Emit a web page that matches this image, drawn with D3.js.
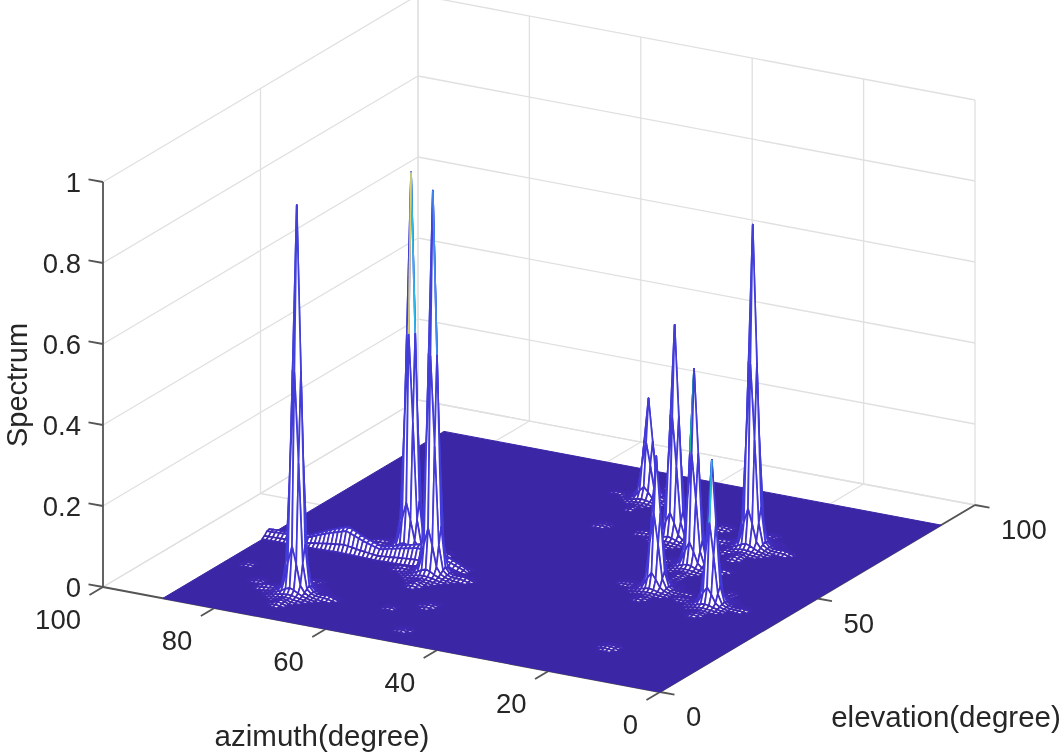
<!DOCTYPE html>
<head>
<title>Spectrum</title>
<meta charset="utf-8">
<style>
body { margin: 0; background: #fff; }
svg { display: block; filter: blur(0.5px); }
text { font-family: "Liberation Sans", Arial, sans-serif; font-size: 27.5px; fill: #262626; }
text.title { font-size: 29.5px; }
text.ztitle { font-size: 29px; }
.grid line { stroke: #e0e0e0; stroke-width: 1.3px; }
.axis line { stroke: #555; stroke-width: 1.8px; }
</style>
<script src="https://d3js.org/d3.v7.min.js"></script>
</head>
<body>
<script type="text/javascript">
"use strict";
// peaks (tip and base of each spike)
var peakAz = [72, 66.75, 58, 46, 24, 33, 24, 13, 20],
    peakEl = [12, 39, 30, 77, 41, 63, 53, 39, 65],
    peakZ  = [0.96, 0.93, 0.95, 0.25, 0.33, 0.53, 0.49, 0.36, 0.80];

// low ridge behind the left spikes, at el = ridgeEl
var ridgeEl = 33.5,
    ridgeAz = [54, 58, 62, 65, 69, 72, 75, 78, 82, 86, 90],
    ridgeZ  = [0.01, 0.035, 0.05, 0.04, 0.025, 0.04, 0.06, 0.045, 0.02, 0.018, 0.015];

// faint dotted patches on the floor
var patchAz = [17, 46, 29, 23, 56, 51, 49, 85, 80],
    patchEl = [14, 63, 71, 62, 13, 17, 5, 20, 14],
    patchZ  = [0.008, 0.006, 0.008, 0.007, 0.005, 0.007, 0.006, 0.005, 0.006];

// coloured mesh edges near the tips: peak index, step in az and el
var accentPeak = [1, 1, 2, 6, 7],
    accentAz   = [-1, 0, -1, 1, 0],
    accentEl   = [0, -1, 0, 0, -1],
    accentCol  = ["#2fb8e8", "#d8d070", "#3f8cf0", "#17b59a", "#1fc0d8"];

var azTicks = [0, 20, 40, 60, 80, 100],
    elTicks = [0, 50, 100],
    zTicks  = [0, 0.2, 0.4, 0.6, 0.8, 1];

var width = 1062, height = 753;
var step = 0.75, surfMax = 89.25;

// axonometric view: every screen position comes from these scales
var xAz = d3.scaleLinear().domain([0, 100]).range([660, 103]),
    yAz = d3.scaleLinear().domain([0, 100]).range([692, 587]),
    xEl = d3.scaleLinear().domain([0, 100]).range([0, 315]),
    yEl = d3.scaleLinear().domain([0, 100]).range([0, -187]),
    yZ  = d3.scaleLinear().domain([0, 1]).range([0, -405]);

function px(az, el) { return xAz(az) + xEl(el); }
function py(az, el, z) { return yAz(az) + yEl(el) + yZ(z); }

function snap(v) { return Math.round(v / step) * step; }

var ridgeScale = d3.scaleLinear().domain(ridgeAz).range(ridgeZ).clamp(true);

var color = d3.scaleLinear()
    .domain([0, 0.03, 0.15, 1])
    .range(["#3e26a8", "#4330c8", "#4338d8", "#4240d8"]);

// surface height at a mesh node, built from the arrays above
function surface(az, el) {
  var z = ridgeScale(az) * Math.exp(-Math.pow((el - ridgeEl) / 1.2, 2));
  if (az < ridgeAz[0]) z = 0;
  peakAz.forEach(function(a, k) {
    var da = az - snap(a), de = el - snap(peakEl[k]), d = Math.sqrt(da * da + de * de);
    var s = Math.sqrt(peakZ[k]), skirt = s * 0.09;
    var v = (peakZ[k] - skirt) * Math.exp(-d * d / 1.0) + skirt * Math.exp(-d / 1.5);
    v += s * 0.008 * Math.exp(-Math.pow(de, 2)) * Math.exp(-Math.pow((Math.abs(da) - 5.5) / 1.5, 2));
    v += s * 0.008 * Math.exp(-Math.pow(da, 2)) * Math.exp(-Math.pow((Math.abs(de) - 5.5) / 1.5, 2));
    if (v > z) z = v;
  });
  patchAz.forEach(function(a, k) {
    var da = az - a, de = el - patchEl[k];
    var v = patchZ[k] * Math.exp(-(da * da + de * de) / 3);
    if (v > z) z = v;
  });
  return z;
}

var n = Math.round(surfMax / step);
var nodes = d3.range(n + 1).map(function(i) {
  return d3.range(n + 1).map(function(j) { return surface(i * step, j * step); });
});

// accent edges on the mesh, snapped to the nodes
var accents = accentPeak.map(function(p, k) {
  var i = Math.round(peakAz[p] / step), j = Math.round(peakEl[p] / step);
  return {i: i, j: j, i2: i + accentAz[k], j2: j + accentEl[k], color: accentCol[k]};
});

function nodePoint(q) {
  return [px(q[0] * step, q[1] * step), py(q[0] * step, q[1] * step, nodes[q[0]][q[1]])];
}

// cells back to front, only where the surface lifts off the floor
var items = [];
for (var i = n - 1; i >= 0; i--) {
  for (var j = n - 1; j >= 0; j--) {
    var c = [[i, j], [i + 1, j], [i + 1, j + 1], [i, j + 1]];
    var zMax = d3.max(c, function(q) { return nodes[q[0]][q[1]]; });
    if (zMax < 0.004) continue;
    items.push({pts: c.map(nodePoint), stroke: color(zMax), fill: "#fff", closed: true});
    accents.forEach(function(a) {
      var has = function(ii, jj) { return ii >= i && ii <= i + 1 && jj >= j && jj <= j + 1; };
      if (has(a.i, a.j) && has(a.i2, a.j2)) {
        items.push({pts: [[a.i, a.j], [a.i2, a.j2]].map(nodePoint), stroke: a.color, fill: "none", closed: false});
      }
    });
  }
}

var svg = d3.select("body").append("svg")
    .attr("width", width)
    .attr("height", height);

var line = d3.line();

// back walls and floor grid
var grid = svg.append("g").attr("class", "grid");

function seg(sel, a, b) {
  sel.append("line")
      .attr("x1", a[0]).attr("y1", a[1])
      .attr("x2", b[0]).attr("y2", b[1]);
}

zTicks.forEach(function(z) {
  seg(grid, [px(100, 0), py(100, 0, z)], [px(100, 100), py(100, 100, z)]);
  seg(grid, [px(100, 100), py(100, 100, z)], [px(0, 100), py(0, 100, z)]);
});
azTicks.forEach(function(a) {
  seg(grid, [px(a, 100), py(a, 100, 0)], [px(a, 100), py(a, 100, 1)]);
  seg(grid, [px(a, 0), py(a, 0, 0)], [px(a, 100), py(a, 100, 0)]);
});
elTicks.forEach(function(e) {
  seg(grid, [px(100, e), py(100, e, 0)], [px(100, e), py(100, e, 1)]);
  seg(grid, [px(0, e), py(0, e, 0)], [px(100, e), py(100, e, 0)]);
});

// axes
var axis = svg.append("g").attr("class", "axis");
seg(axis, [px(100, 0), py(100, 0, 0)], [px(0, 0), py(0, 0, 0)]);
seg(axis, [px(0, 0), py(0, 0, 0)], [px(0, 100), py(0, 100, 0)]);
seg(axis, [px(100, 0), py(100, 0, 0)], [px(100, 0), py(100, 0, 1)]);

azTicks.forEach(function(a) {
  var x = px(a, 0), y = py(a, 0, 0);
  seg(axis, [x, y], [px(a, -4.3), py(a, -4.3, 0)]);
  svg.append("text")
      .attr("x", x - 22).attr("y", y + 32 + 10)
      .attr("text-anchor", "end")
      .text(a);
});
elTicks.forEach(function(e) {
  var x = px(0, e), y = py(0, e, 0);
  seg(axis, [x, y], [px(-2.6, e), py(-2.6, e, 0)]);
  svg.append("text")
      .attr("x", x + 26).attr("y", y + 24 + 10)
      .text(e);
});
zTicks.forEach(function(z) {
  var x = px(100, 0), y = py(100, 0, z);
  seg(axis, [x, y], [px(102.6, 0), py(102.6, 0, z)]);
  svg.append("text")
      .attr("x", x - 22).attr("y", y + 10)
      .attr("text-anchor", "end")
      .text(z);
});

// flat floor of the surface
svg.append("path")
    .attr("fill", "#3b27a6")
    .attr("stroke", "#3b27a6")
    .attr("d", line([[0, 0], [surfMax, 0], [surfMax, surfMax], [0, surfMax]].map(function(q) {
      return [px(q[0], q[1]), py(q[0], q[1], 0)];
    })) + "Z");

// raised part of the mesh
svg.append("g").selectAll("path")
    .data(items)
  .enter().append("path")
    .attr("d", function(d) { return line(d.pts) + (d.closed ? "Z" : ""); })
    .attr("fill", function(d) { return d.fill; })
    .attr("stroke", function(d) { return d.stroke; })
    .attr("stroke-width", 1.7)
    .attr("stroke-linejoin", "round");

// axis titles
svg.append("text")
    .attr("class", "title")
    .attr("x", 322).attr("y", 746)
    .attr("text-anchor", "middle")
    .text("azimuth(degree)");
svg.append("text")
    .attr("class", "title")
    .attr("x", 946).attr("y", 727)
    .attr("text-anchor", "middle")
    .text("elevation(degree)");
svg.append("text")
    .attr("class", "ztitle")
    .attr("transform", "translate(26.5,385) rotate(-90)")
    .attr("text-anchor", "middle")
    .text("Spectrum");
</script>
</body>
